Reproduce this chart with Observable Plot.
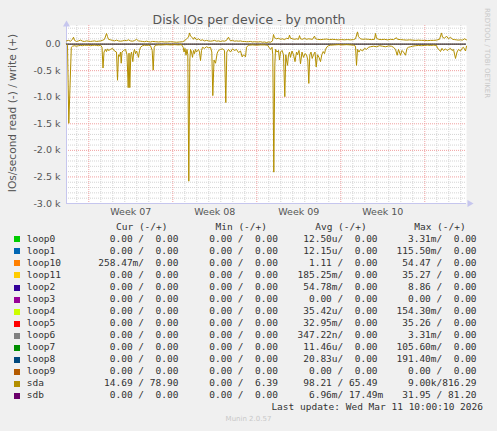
<!DOCTYPE html>
<html><head><meta charset="utf-8">
<script src="https://cdn.jsdelivr.net/npm/d3@7"></script>
<script src="https://cdn.jsdelivr.net/npm/@observablehq/plot@0.6"></script>
<style>
body{margin:0;background:#f0f0f0;}
#wrap{position:relative;width:497px;height:431px;background:#f0f0f0;overflow:hidden;}
.lg{position:absolute;font-family:"DejaVu Sans Mono",monospace;font-size:9.5px;line-height:12px;white-space:pre;color:#333;}
.sq{position:absolute;width:6px;height:6px;}
.sm{position:absolute;font-family:"DejaVu Sans",sans-serif;font-size:7px;color:#c8c8c8;white-space:pre;}
.rot{position:absolute;font-family:"DejaVu Sans",sans-serif;white-space:pre;text-align:center;}
</style></head><body><div id="wrap"></div>
<script>
// sda write IOs (+), sample index = 2-hour RRD step since start of month view
const writeX = [0,2,4,6,7,8,10,12,14,16,18,20,22,24,26,28,30,32,34,36,38,40,41,42,44,46,48,50,52,54,56,58,60,62,64,66,68,70,72,74,76,78,80,82,84,86,89,92,95,98,101,104,107,110,113,116,118,120,122,123,124,126,127,128,130,132,134,136,138,140,142,144,146,148,150,152,154,156,158,160,162,163,164,166,168,170,172,174,176,178,180,182,184,186,188,190,192,194,196,198,200,202,204,206,207,208,210,212,214,216,218,220,222,223,224,226,228,230,232,233,234,236,238,240,242,244,246,248,249,251,254,257,260,263,266,269,272,275,278,281,284,287,289,291,292,294,296,299,302,305,308,309,310,312,315,318,321,324,327,330,331,334,337,340,343,346,349,352,355,358,361,364,367,370,373,375,376,378,380,382,384,386,388,390,392,394,396,398,400];
const writeY = [60,70,55,90,130,70,50,60,75,55,50,60,55,50,55,60,50,55,60,70,90,200,140,90,80,70,60,75,60,55,60,70,65,80,60,55,65,90,60,55,50,45,55,45,40,50,45,40,45,40,40,45,40,35,40,45,60,100,130,210,150,120,90,130,80,100,70,80,60,70,60,55,60,70,55,60,50,60,55,70,130,90,60,70,55,60,55,60,50,50,45,45,50,40,45,40,40,45,35,40,30,40,35,60,180,120,100,110,90,100,85,110,100,170,110,100,90,100,90,160,100,90,110,90,100,95,90,150,100,90,85,90,95,85,90,85,80,85,80,85,80,85,100,230,140,100,90,95,90,85,90,200,110,90,85,90,80,90,85,120,90,85,80,75,80,75,70,75,70,70,65,70,70,75,90,210,130,110,150,100,130,90,85,80,75,80,75,100,80];
// sda read IOs (drawn as -)
const readX = [0,1,2.3,4.8,6,8,10,12,14,16,18,20,22,24,26,28,30,32,34,35.5,36.5,37.5,39,40,41,42,44,46,48,50,51,52,53,54,54.7,55.5,57,59,60.5,61.7,62.5,63.3,64.3,65,66.3,67.2,68,69,70,71,72,73,74,76,78,80,82,84,85.7,86.7,87.7,89,92,96,100,104,108,112,115,116.7,117.5,118.5,119.5,120.5,121.3,122.3,123.3,124,125,126,127,128,129,130,131,132,133,134,135,136,138,140,142,144,145.3,146.3,147.5,149,150.7,152,154,156,158,159.3,160.3,162,164,166,168,170,172,174,175.7,177,179,180,182,186,190,194,198,201,202.5,204,205.5,206.3,207.3,208.3,209,210.5,212,213,214,215.5,217,218.3,219.3,220,221,222,223,224,225.5,227,228.5,230,231,232.5,234,235.5,237,238.5,240,241.3,242.3,243.3,244.5,245.7,247,248.5,249.7,251,252.5,254,255.3,256.7,258,259,260.5,262,264,268,272,276,280,284,287,289,290,291,292.5,294,296,298,300,302,304,307,310,313,316,319,322,325,327,329,330.7,332,334,335.5,337,339,340.5,342,344,346,349,352,355,358,361,364,367,370,371,372.5,374,375.5,377,379,380.5,382.3,384,385.5,387,389,390.5,392,394,395.5,397,399,400];
const readY = [0,20,1490,60,40,30,40,30,25,30,20,25,20,30,25,20,25,30,20,60,450,150,100,140,90,120,100,80,130,150,680,200,230,150,360,150,120,100,200,820,170,820,200,150,330,150,100,180,130,180,250,120,60,30,20,25,20,30,120,490,60,20,15,15,10,15,10,15,10,60,150,80,210,100,200,2580,300,100,150,250,120,180,100,150,120,100,150,310,120,60,80,50,70,60,150,970,300,360,170,120,100,90,120,1100,150,100,150,90,120,100,160,130,240,200,240,60,20,15,20,15,15,20,60,100,60,200,2410,400,100,150,120,300,150,120,200,990,200,300,400,200,150,250,130,200,330,150,200,120,370,150,250,180,200,300,740,200,150,270,200,150,430,200,250,330,200,140,180,100,50,30,20,15,10,15,10,15,20,40,400,100,150,100,130,80,100,60,50,40,50,30,40,50,35,40,60,100,210,100,210,120,150,210,80,60,50,40,30,25,30,25,20,25,20,25,80,100,140,80,120,90,120,100,80,120,100,270,150,100,130,80,60,130,40];

const weekStarts = [22.3, 106.3, 190.3, 274.3, 358.3];
const weekLabels = ["Week 07", "Week 08", "Week 09", "Week 10"];
const yTicks = [0, -500, -1000, -1500, -2000, -2500, -3000];

const devices = ["loop0","loop1","loop10","loop11","loop2","loop3","loop4","loop5","loop6","loop7","loop8","loop9","sda","sdb"];
const colors = ["#00CC00","#0066B3","#FF8000","#FFCC00","#330099","#990099","#CCFF00","#FF0000","#808080","#008F00","#00487D","#B35A00","#B38F00","#6B006B"];
const curR = ["0.00","0.00","258.47m","0.00","0.00","0.00","0.00","0.00","0.00","0.00","0.00","0.00","14.69","0.00"];
const curW = ["0.00","0.00","0.00","0.00","0.00","0.00","0.00","0.00","0.00","0.00","0.00","0.00","78.90","0.00"];
const minR = ["0.00","0.00","0.00","0.00","0.00","0.00","0.00","0.00","0.00","0.00","0.00","0.00","0.00","0.00"];
const minW = ["0.00","0.00","0.00","0.00","0.00","0.00","0.00","0.00","0.00","0.00","0.00","0.00","6.39","0.00"];
const avgR = ["12.50u","12.15u","1.11","185.25m","54.78m","0.00","35.42u","32.95m","347.22n","11.46u","20.83u","0.00","98.21","6.96m"];
const avgW = ["0.00","0.00","0.00","0.00","0.00","0.00","0.00","0.00","0.00","0.00","0.00","0.00","65.49","17.49m"];
const maxR = ["3.31m","115.50m","54.47","35.27","8.86","0.00","154.30m","35.26","3.31m","105.60m","191.40m","0.00","9.00k","31.95"];
const maxW = ["0.00","0.00","0.00","0.00","0.00","0.00","0.00","0.00","0.00","0.00","0.00","0.00","816.29","81.20"];

const sdaColor = colors[devices.indexOf("sda")];
const writeData = writeX.map((x, i) => ({x, y: writeY[i]}));
const readData = readX.map((x, i) => ({x, y: -readY[i]}));

const majorY = d3.range(-3000, 1, 500);
const minorY = d3.range(-3000, 301, 100).filter(v => v % 500 !== 0);
const minorX = d3.range(weekStarts[0] - 12, 400, 12).filter(v => !weekStarts.some(w => Math.abs(w - v) < 0.5));
const weekCenters = weekStarts.slice(0, 4).map(w => w + 42);

const axisCol = "#c6c6ee";
const chart = Plot.plot({
  width: 497, height: 220,
  marginLeft: 66, marginRight: 31, marginTop: 25, marginBottom: 17,
  style: {background: "#f0f0f0", fontFamily: "DejaVu Sans", fontSize: "9.5px", color: "#555", overflow: "visible"},
  x: {domain: [0, 400], axis: null},
  y: {domain: [-3000, 350], axis: null},
  marks: [
    Plot.frame({fill: "white", stroke: "none"}),
    Plot.ruleY(minorY, {stroke: "#d4d4d4", strokeDasharray: "1,1"}),
    Plot.ruleX(minorX, {stroke: "#d4d4d4", strokeDasharray: "1,1"}),
    Plot.ruleY(majorY, {stroke: "#f0a0a0", strokeDasharray: "1,1"}),
    Plot.ruleX(weekStarts, {stroke: "#f0a0a0", strokeDasharray: "1,1"}),
    Plot.ruleX([0], {stroke: axisCol, y1: -3000, y2: 350}),
    Plot.ruleY([-3000], {stroke: axisCol}),
    Plot.dot([0], {frameAnchor: "top-left", symbol: "triangle", r: 2.6, fill: axisCol, stroke: "none", dy: -1}),
    Plot.dot([0], {frameAnchor: "bottom-right", symbol: "triangle", r: 2.6, fill: axisCol, stroke: "none", rotate: 90, dx: 3}),
    Plot.ruleY([0], {stroke: "black", strokeWidth: 1}),
    Plot.line(readData, {x: "x", y: "y", stroke: sdaColor, strokeWidth: 1}),
    Plot.line(writeData, {x: "x", y: "y", stroke: sdaColor, strokeWidth: 1}),
    Plot.axisY({ticks: yTicks, tickSize: 0, tickPadding: 6, label: null, tickFormat: d => d === 0 ? "0.0" : (d / 1000).toFixed(1) + " k", fill: "#555"}),
    Plot.axisX({ticks: weekCenters, tickSize: 0, tickPadding: 5, label: null, tickFormat: (d, i) => weekLabels[i], fill: "#555"}),
    Plot.text(["Disk IOs per device - by month"], {frameAnchor: "top", dx: -17.5, dy: -6, fontSize: 12.5, fill: "#555", lineAnchor: "middle"})
  ]
});

const wrap = document.getElementById("wrap");
chart.style.position = "absolute";
chart.style.left = "0px"; chart.style.top = "0px";
wrap.append(chart);

function fmt(v) {
  const last = v[v.length - 1];
  const suf = /[a-zA-Z]/.test(last) ? last : " ";
  const num = suf === " " ? v : v.slice(0, -1);
  return num.padStart(6) + suf;
}
function addText(cls, text, left, top, extra) {
  const s = document.createElement("div");
  s.className = cls;
  s.textContent = text;
  s.style.left = left + "px";
  s.style.top = top + "px";
  if (extra) Object.assign(s.style, extra);
  wrap.append(s);
  return s;
}
// rotated side texts (centred boxes rotated about their centre)
addText("rot", "IOs/second read (-) / write (+)", 12 - 100, 113 - 7, {width: "200px", height: "14px", lineHeight: "14px", fontSize: "10.6px", color: "#555", transform: "rotate(-90deg)"});
addText("rot", "RRDTOOL / TOBI OETIKER", 487 - 60, 53 - 5, {width: "120px", height: "10px", lineHeight: "10px", fontSize: "7px", color: "#c8c8c8", transform: "rotate(90deg)"});

const colX = [98.3, 197.8, 297.5, 396.5];
const headerY = 227.7, row0 = 239.3, rowStep = 12.05;
["Cur (-/+)", "Min (-/+)", "Avg (-/+)", "Max (-/+)"].forEach((h, j) => addText("lg", h, colX[j] + 17.7, headerY - 6.5));
devices.forEach((d, i) => {
  const cy = row0 + i * rowStep;
  const sq = document.createElement("div");
  sq.className = "sq";
  sq.style.left = "14px"; sq.style.top = (cy - 3) + "px";
  sq.style.background = colors[i];
  wrap.append(sq);
  addText("lg", d, 26.7, cy - 6.5);
  const cols = [[curR, curW], [minR, minW], [avgR, avgW], [maxR, maxW]];
  cols.forEach(([r, w], j) => addText("lg", fmt(r[i]) + "/" + fmt(w[i]), colX[j], cy - 6.5));
});
addText("lg", "Last update: Wed Mar 11 10:00:10 2026", 0, 407.7 - 6.5, {left: "auto", right: (497 - 483) + "px"});
addText("sm", "Munin 2.0.57", 0, 420 - 5, {left: "0px", width: "497px", textAlign: "center"});
</script></body></html>
